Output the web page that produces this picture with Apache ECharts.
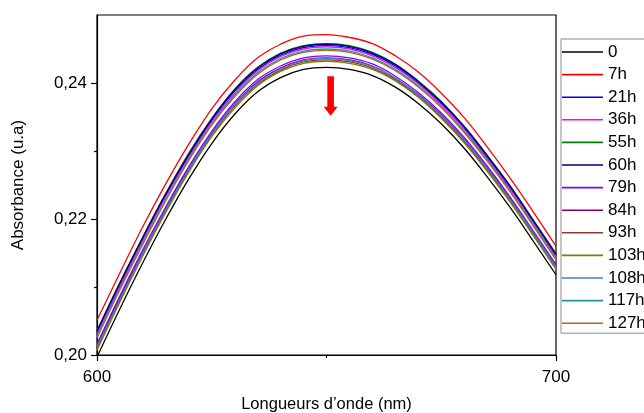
<!DOCTYPE html>
<html><head><meta charset="utf-8">
<script src="https://cdn.jsdelivr.net/npm/echarts@6/dist/echarts.min.js"></script>
<style>html,body{margin:0;padding:0;background:#fff}#c{width:644px;height:413px}</style>
</head><body><div id="c"></div>
<script>
const wavelengths = [600,605,610,615,620,625,630,635,640,645,650,655,660,665,670,675,680,685,690,695,700];
const seriesNames = ['0','7h','21h','36h','55h','60h','79h','84h','93h','103h','108h','117h','127h'];
const seriesColors = ['#000000','#ff0000','#0000ff','#ff00ff','#008000','#000080','#8000ff','#800080','#993333','#808000','#3f7fcc','#1a9a9a','#a86a28'];
const s0    = [0.1997,0.2068,0.2136,0.2200,0.2259,0.2311,0.2354,0.2387,0.2408,0.2420,0.2423,0.2420,0.2411,0.2394,0.2370,0.2340,0.2304,0.2262,0.2217,0.2168,0.2118];
const s7h   = [0.2051,0.2121,0.2189,0.2252,0.2310,0.2362,0.2404,0.2437,0.2457,0.2469,0.2471,0.2467,0.2458,0.2440,0.2416,0.2385,0.2349,0.2306,0.2260,0.2211,0.2160];
const s21h  = [0.2033,0.2103,0.2171,0.2235,0.2293,0.2345,0.2388,0.2420,0.2441,0.2452,0.2455,0.2452,0.2442,0.2425,0.2400,0.2370,0.2334,0.2291,0.2246,0.2197,0.2146];
const s36h  = [0.2031,0.2101,0.2169,0.2233,0.2291,0.2343,0.2385,0.2418,0.2439,0.2450,0.2453,0.2450,0.2440,0.2423,0.2399,0.2368,0.2332,0.2289,0.2244,0.2195,0.2144];
const s55h  = [0.2036,0.2107,0.2174,0.2238,0.2297,0.2348,0.2391,0.2423,0.2444,0.2455,0.2458,0.2455,0.2445,0.2428,0.2403,0.2373,0.2336,0.2294,0.2249,0.2199,0.2149];
const s60h  = [0.2035,0.2106,0.2173,0.2237,0.2295,0.2347,0.2390,0.2422,0.2443,0.2454,0.2457,0.2454,0.2444,0.2427,0.2402,0.2372,0.2336,0.2293,0.2248,0.2198,0.2148];
const s79h  = [0.2016,0.2087,0.2155,0.2218,0.2277,0.2329,0.2372,0.2405,0.2425,0.2437,0.2440,0.2437,0.2428,0.2410,0.2386,0.2356,0.2320,0.2278,0.2232,0.2183,0.2133];
const s84h  = [0.2013,0.2084,0.2151,0.2215,0.2274,0.2326,0.2369,0.2402,0.2422,0.2434,0.2437,0.2434,0.2425,0.2407,0.2383,0.2353,0.2317,0.2275,0.2230,0.2180,0.2130];
const s93h  = [0.2009,0.2080,0.2148,0.2212,0.2271,0.2323,0.2366,0.2398,0.2419,0.2431,0.2434,0.2431,0.2422,0.2405,0.2380,0.2350,0.2314,0.2272,0.2227,0.2178,0.2128];
const s103h = [0.2007,0.2078,0.2146,0.2210,0.2269,0.2321,0.2363,0.2396,0.2417,0.2429,0.2432,0.2429,0.2420,0.2403,0.2379,0.2348,0.2312,0.2270,0.2225,0.2176,0.2126];
const s108h = [0.2012,0.2082,0.2150,0.2214,0.2273,0.2325,0.2368,0.2400,0.2421,0.2433,0.2436,0.2433,0.2424,0.2407,0.2382,0.2352,0.2316,0.2274,0.2229,0.2180,0.2129];
const s117h = [0.2027,0.2098,0.2166,0.2229,0.2288,0.2340,0.2382,0.2415,0.2436,0.2447,0.2450,0.2447,0.2437,0.2420,0.2396,0.2365,0.2329,0.2287,0.2241,0.2192,0.2142];
const s127h = [0.2025,0.2096,0.2163,0.2227,0.2286,0.2338,0.2380,0.2413,0.2434,0.2445,0.2448,0.2445,0.2435,0.2418,0.2394,0.2364,0.2327,0.2285,0.2240,0.2190,0.2140];
const seriesValues = [s0,s7h,s21h,s36h,s55h,s60h,s79h,s84h,s93h,s103h,s108h,s117h,s127h];
const xTickLabels = [600,700];
const xMinorTicks = [650];
const yTickLabels = [0.20,0.22,0.24];
const yMinorTicks = [0.21,0.23];
const arrowX = 650.9, arrowTail = 0.2410, arrowTip = 0.2352;

const FONT = 'Arial, "Liberation Sans", sans-serif';
const chart = echarts.init(document.getElementById('c'), null, {renderer:'canvas'});
const fmt = v => v.toFixed(2).replace('.', ',');
const option = {
  animation:false,
  grid:{left:97, top:15, right:88, bottom:58, show:true, borderColor:'#000', borderWidth:1.2, containLabel:false, outerBoundsMode:'none'},
  xAxis:[{
    type:'value', min:600, max:700, position:'bottom',
    name:'Longueurs d\u2019onde (nm)', nameLocation:'middle', nameGap:41,
    nameTextStyle:{fontFamily:FONT, fontSize:16.5, color:'#000'},
    axisLine:{show:true, lineStyle:{color:'#000', width:1.2}},
    axisTick:{show:true, length:6, inside:false, customValues:xTickLabels, lineStyle:{color:'#000', width:1.2}},
    axisLabel:{show:true, customValues:xTickLabels, margin:14, fontFamily:FONT, fontSize:17, color:'#000'},
    splitLine:{show:false}
  },{
    type:'value', min:600, max:700, position:'bottom', gridIndex:0,
    axisLine:{show:false},
    axisTick:{show:true, length:3, customValues:xMinorTicks, lineStyle:{color:'#000', width:1.2}},
    axisLabel:{show:false}, splitLine:{show:false}
  }],
  yAxis:[{
    type:'value', min:0.20, max:0.25, position:'left',
    name:'Absorbance (u.a)', nameLocation:'middle', nameGap:70,
    nameTextStyle:{fontFamily:FONT, fontSize:17, color:'#000'},
    axisLine:{show:true, lineStyle:{color:'#000', width:1.2}},
    axisTick:{show:true, length:6, customValues:yTickLabels, lineStyle:{color:'#000', width:1.2}},
    axisLabel:{show:true, customValues:yTickLabels, margin:10, formatter:fmt, fontFamily:FONT, fontSize:17, color:'#000'},
    splitLine:{show:false}
  },{
    type:'value', min:0.20, max:0.25, position:'left', gridIndex:0,
    axisLine:{show:false},
    axisTick:{show:true, length:3, customValues:yMinorTicks, lineStyle:{color:'#000', width:1.2}},
    axisLabel:{show:false}, splitLine:{show:false}
  }],
  legend:{
    orient:'vertical', left:561, top:39,
    padding:[3,40,0,1], itemGap:2.6, itemTextGap:4,
    borderColor:'#8a8a8a', borderWidth:1, backgroundColor:'#fff',
    icon:'rect', itemWidth:41, itemHeight:1.6,
    textStyle:{fontFamily:FONT, fontSize:17, color:'#000', lineHeight:20, padding:[0,0,0,0]},
    data:seriesNames
  },
  series: seriesNames.map((n,i)=>({
    name:n, type:'line', xAxisIndex:0, yAxisIndex:0,
    data: wavelengths.map((w,j)=>[w, seriesValues[i][j]]),
    showSymbol:false, symbol:'none', smooth:0.4, clip:true,
    color: seriesColors[i],
    lineStyle:{color:seriesColors[i], width:1.3},
    itemStyle:{color:seriesColors[i]}
  }))
};
chart.setOption(option);
// red arrow annotation
const tip = chart.convertToPixel({xAxisIndex:0, yAxisIndex:0}, [arrowX, arrowTip]);
const tail = chart.convertToPixel({xAxisIndex:0, yAxisIndex:0}, [arrowX, arrowTail]);
const cx = tip[0], ty = tip[1], by = tail[1];
chart.setOption({graphic:[{
  type:'polygon', z:100,
  shape:{points:[[cx-3.3,by],[cx+3.3,by],[cx+3.3,ty-9],[cx+7,ty-9],[cx,ty],[cx-7,ty-9],[cx-3.3,ty-9]]},
  style:{fill:'#ff0000'}
}]});
</script>
</body></html>
